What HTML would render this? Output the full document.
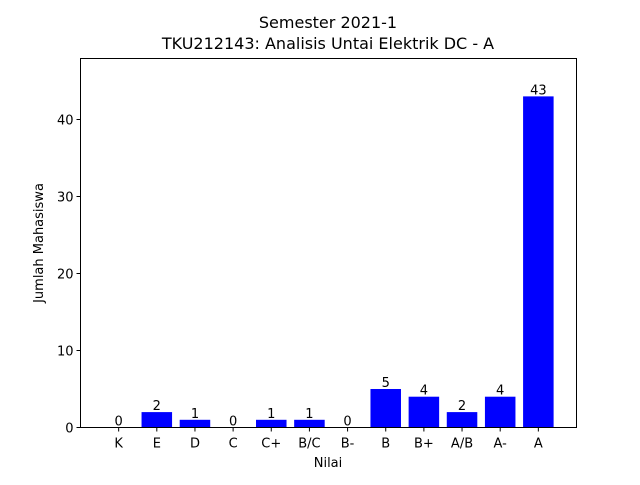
<!DOCTYPE html>
<html><head><meta charset="utf-8"><style>
body{margin:0;background:#fff}
svg text{font-family:"DejaVu Sans","Liberation Sans",sans-serif;fill:#000}
</style></head><body>
<svg id="chart" width="640" height="480" viewBox="0 0 640 480" xmlns="http://www.w3.org/2000/svg">
<rect width="640" height="480" fill="#fff"/>
<text x="328" y="28" text-anchor="middle" font-size="16">Semester 2021-1</text>
<text x="328" y="49" text-anchor="middle" font-size="16">TKU212143: Analisis Untai Elektrik DC - A</text>
<g id="marks"></g>
<rect x="80.5" y="58.5" width="496" height="369" fill="none" stroke="#000" stroke-width="1"/>
<text x="328" y="467" text-anchor="middle" font-size="13">Nilai</text>
<text transform="translate(43,243) rotate(-90)" text-anchor="middle" font-size="13">Jumlah Mahasiswa</text>
</svg>
<script>
const categories = ["K","E","D","C","C+","B/C","B-","B","B+","A/B","A-","A"];
const counts = [0,2,1,0,1,1,0,5,4,2,4,43];
const yTicks = [0,10,20,30,40];

const L=80.5,R=576.5,T=58.5,B=427.5;
const xMin=-1,xMax=12,yMax=47.92;
const x=v=>L+(v-xMin)/(xMax-xMin)*(R-L);
const y=v=>B-v/yMax*(B-T);
const NS="http://www.w3.org/2000/svg";
const g=document.getElementById('marks');
function mk(tag,attrs){const e=document.createElementNS(NS,tag);for(const k in attrs)e.setAttribute(k,attrs[k]);g.appendChild(e);return e;}
const bw=0.8;
categories.forEach((c,i)=>{
  const v=counts[i];
  const r=mk('rect',{x:x(i-bw/2),y:y(v),width:x(i+bw/2)-x(i-bw/2),height:B-y(v),fill:'#0000ff'});
  
  
  const t=mk('text',{x:x(i),y:y(v)-2,'text-anchor':'middle','font-size':'13'});
  t.textContent=v;
  
  
  const tk=mk('line',{x1:x(i),x2:x(i),y1:B,y2:B+4,stroke:'#000'});
  
  
  const tl=mk('text',{x:x(i),y:B+20,'text-anchor':'middle','font-size':'13'});
  tl.textContent=c;
  
  
});
yTicks.forEach(v=>{
  const tk=mk('line',{x1:L-4,x2:L,y1:y(v),y2:y(v),stroke:'#000'});
  
  
  const tl=mk('text',{x:L-7,y:y(v)+5,'text-anchor':'end','font-size':'13'});
  tl.textContent=v;
  
  
});
</script>
</body></html>
